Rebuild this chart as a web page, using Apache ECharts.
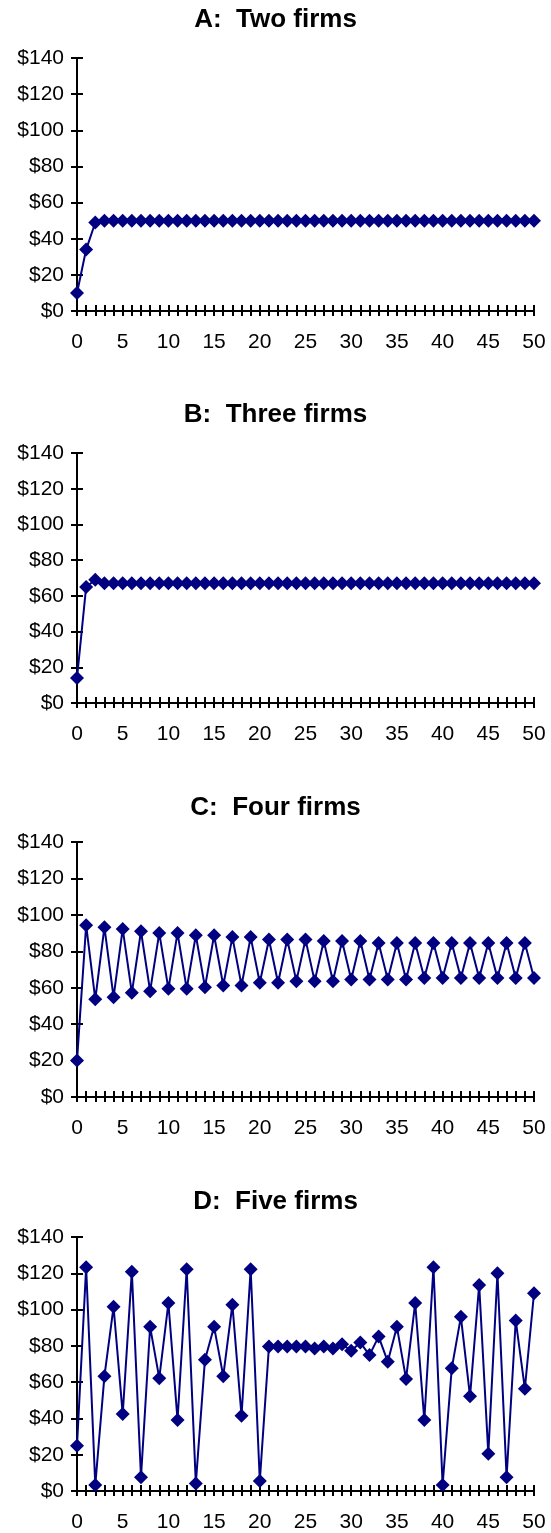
<!DOCTYPE html>
<html>
<head>
<meta charset="utf-8">
<script src="https://cdn.jsdelivr.net/npm/echarts@6/dist/echarts.min.js"></script>
<style>
  html, body { margin: 0; padding: 0; background: #fff; }
  #chart { width: 551px; height: 1533px; }
</style>
</head>
<body>
<div id="chart"></div>
<script>
// Periods shown on every horizontal axis
const periods = ['0','1','2','3','4','5','6','7','8','9','10','11','12','13','14','15','16','17','18','19','20',
  '21','22','23','24','25','26','27','28','29','30','31','32','33','34','35','36','37','38','39','40',
  '41','42','43','44','45','46','47','48','49','50'];

// Price path per market structure
const twoFirms = [10, 34, 49, 50, 50, 50, 50, 50, 50, 50, 50, 50, 50, 50, 50, 50, 50, 50, 50, 50, 50,
  50, 50, 50, 50, 50, 50, 50, 50, 50, 50, 50, 50, 50, 50, 50, 50, 50, 50, 50, 50,
  50, 50, 50, 50, 50, 50, 50, 50, 50, 50];

const threeFirms = [14, 65, 69, 67, 67, 67, 67, 67, 67, 67, 67, 67, 67, 67, 67, 67, 67, 67, 67, 67, 67,
  67, 67, 67, 67, 67, 67, 67, 67, 67, 67, 67, 67, 67, 67, 67, 67, 67, 67, 67, 67,
  67, 67, 67, 67, 67, 67, 67, 67, 67, 67];

const fourFirms = [20, 94.3, 53.6, 93.2, 54.8, 92.3, 57.2, 91.0, 58.1, 90.1, 59.4, 90.1, 59.4, 88.8, 60.3, 88.8,
  61.2, 87.8, 61.2, 87.8, 62.7, 86.5, 62.7, 86.5, 63.6, 86.5, 63.6, 85.6, 63.6, 85.6, 64.5,
  85.6, 64.5, 84.6, 64.5, 84.6, 64.5, 84.6, 65.4, 84.6, 65.4, 84.6, 65.4, 84.6, 65.4, 84.6,
  65.4, 84.6, 65.4, 84.6, 65.4];

const fiveFirms = [25, 123.3, 3.3, 63.3, 101.5, 42.4, 120.9, 7.6, 90.5, 62.2, 103.6, 39.1, 122.2, 4.2, 72.4, 90.5,
  63.3, 102.7, 41.5, 122.2, 5.5, 79.6, 79.6, 79.6, 79.6, 79.6, 78.5, 79.6, 78.5, 80.9, 77.3,
  81.8, 74.9, 85.1, 71.3, 90.5, 61.8, 103.6, 39.1, 123.3, 3.3, 67.6, 96, 52.2, 113.6, 20.5,
  120, 7.6, 94, 56.4, 109];

// Panel titles and y-axis ticks
const panelTitles = ['A:  Two firms', 'B:  Three firms', 'C:  Four firms', 'D:  Five firms'];
const priceMin = 0, priceMax = 140, priceStep = 20;

const panelSeries = [twoFirms, threeFirms, fourFirms, fiveFirms];

// Panel geometry (px)
const panelTops    = [58, 453, 842, 1237];
const panelHeights = [253, 250, 255, 255];
const titleTops    = [2, 397, 790, 1184];

const FONT = '"Liberation Sans", Arial, sans-serif';
const NAVY = '#000080';
const INK = '#000000';

const chart = echarts.init(document.getElementById('chart'), null, { renderer: 'canvas' });

const grid = [], xAxis = [], yAxis = [], series = [], title = [];

panelSeries.forEach((values, i) => {
  grid.push({ left: 77, right: 17, top: panelTops[i], height: panelHeights[i], containLabel: false });

  title.push({
    text: panelTitles[i], left: 'center', top: titleTops[i],
    textStyle: { fontFamily: FONT, fontSize: 26, fontWeight: 'bold', color: INK }
  });

  // outer-facing ticks with labels
  xAxis.push({
    type: 'category', gridIndex: i, data: periods, boundaryGap: false,
    axisLine: { show: true, onZero: false, lineStyle: { color: INK, width: 2 } },
    axisTick: { show: true, interval: 0, length: 5, lineStyle: { color: INK, width: 2 } },
    axisLabel: { interval: 4, margin: 21, fontFamily: FONT, fontSize: 21, color: INK },
    splitLine: { show: false }
  });
  // inner-facing ticks completing the cross marks
  xAxis.push({
    type: 'category', gridIndex: i, data: periods, boundaryGap: false, position: 'bottom',
    axisLine: { show: false, onZero: false },
    axisTick: { show: true, inside: true, interval: 0, length: 6, lineStyle: { color: INK, width: 2 } },
    axisLabel: { show: false }, splitLine: { show: false }
  });

  yAxis.push({
    type: 'value', gridIndex: i, min: priceMin, max: priceMax, interval: priceStep,
    axisLine: { show: true, lineStyle: { color: INK, width: 2 } },
    axisTick: { show: true, length: 6, lineStyle: { color: INK, width: 2 } },
    axisLabel: { margin: 13, fontFamily: FONT, fontSize: 21, color: INK, formatter: v => '$' + v },
    splitLine: { show: false }
  });
  yAxis.push({
    type: 'value', gridIndex: i, min: priceMin, max: priceMax, interval: priceStep, position: 'left',
    axisLine: { show: false },
    axisTick: { show: true, inside: true, length: 6, lineStyle: { color: INK, width: 2 } },
    axisLabel: { show: false }, splitLine: { show: false }
  });

  series.push({
    type: 'line', xAxisIndex: 2 * i, yAxisIndex: 2 * i, data: values,
    symbol: 'diamond', symbolSize: 14, showAllSymbol: true,
    lineStyle: { color: NAVY, width: 2 },
    itemStyle: { color: NAVY },
    animation: false, z: 5
  });
});

chart.setOption({
  backgroundColor: '#ffffff',
  animation: false,
  title, grid, xAxis, yAxis, series
});
</script>
</body>
</html>
